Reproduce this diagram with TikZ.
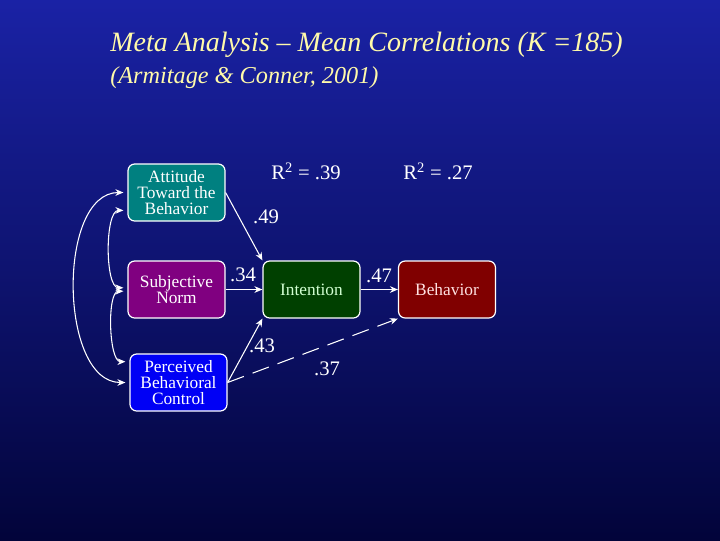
\documentclass[tikz,border=0pt]{standalone}
\usepackage{fontspec}
\setmainfont{Liberation Serif}
\usetikzlibrary{arrows.meta,positioning}
\definecolor{bgtop}{RGB}{26,34,165}
\definecolor{bgbot}{RGB}{2,4,58}
\definecolor{titlecol}{RGB}{255,250,170}
\definecolor{attcol}{RGB}{0,128,128}
\definecolor{sncol}{RGB}{128,0,128}
\definecolor{pbccol}{RGB}{0,0,245}
\definecolor{intcol}{RGB}{0,64,0}
\definecolor{behcol}{RGB}{128,0,0}

\begin{document}
\begin{tikzpicture}[x=0.75pt,y=0.75pt,yscale=-1,xscale=1,
  var/.style={draw=white,line width=0.9pt,rounded corners=5pt,minimum width=72.75pt,minimum height=42.75pt,align=center,text=white,font=\fontsize{13}{11.8}\selectfont,inner sep=1pt},
  pth/.style={draw=white,line width=0.8pt,-{Stealth[length=6pt,width=5pt]}},
  corr/.style={draw=white,line width=0.8pt,{Stealth[length=6pt,width=5pt]}-{Stealth[length=6pt,width=5pt]},shorten <=3pt,shorten >=3pt},
  coef/.style={text=white,font=\fontsize{15.5}{15.5}\selectfont,inner sep=0.75pt},
  ttl/.style={text=titlecol,anchor=west,inner sep=0pt,font=\itshape}]
\useasboundingbox (0,0) rectangle (720,540);
\shade[top color=bgtop,bottom color=bgbot] (0,0) rectangle (720,540);

% title
\node[ttl,font=\itshape\fontsize{21}{21}\selectfont] (head) at (110,45) {Meta Analysis – Mean Correlations (K =185)};
\node[ttl,font=\itshape\fontsize{18.2}{18}\selectfont] (cite) at (110,78) {(Armitage \& Conner, 2001)};

% variables
\node[var,fill=attcol] (att) at (176.5,192.5) {Attitude\\Toward the\\Behavior};
\node[var,fill=sncol] (sn) at (176.5,289.5) {Subjective\\Norm};
\node[var,fill=pbccol] (pbc) at (178.5,382.5) {Perceived\\Behavioral\\Control};
\node[var,fill=intcol,text={rgb,255:red,210;green,255;blue,210}] (int) at (311.5,289.5) {Intention};
\node[var,fill=behcol,text={rgb,255:red,255;green,225;blue,225}] (beh) at (447,289.5) {Behavior};

\node[coef] (r2int) at (306,171) {R\textsuperscript{2} = .39};
\node[coef] (r2beh) at (438,171) {R\textsuperscript{2} = .27};

% paths
\draw[pth] (att.east) -- (int.north west);
\draw[pth] (sn) -- (int);
\draw[pth] (pbc.east) -- (int.south west);
\draw[pth] (int) -- (beh);
\draw[pth,dash pattern=on 13pt off 7pt] (pbc.east) -- (beh.south west);

\node[coef] (c49) at (266,217) {.49};
\node[coef] (c34) at (243,275) {.34};
\node[coef] (c43) at (262,346) {.43};
\node[coef] (c47) at (379,276) {.47};
\node[coef] (c37) at (327,369) {.37};

% correlations
\draw[corr] (att.200) to[out=180,in=180,looseness=0.75] (sn.178);
\draw[corr] (sn.182) to[out=180,in=180,looseness=0.75] (pbc.157);
\draw[corr] (att.180) to[out=180,in=180,looseness=0.95] (pbc.180);
\end{tikzpicture}
\end{document}
